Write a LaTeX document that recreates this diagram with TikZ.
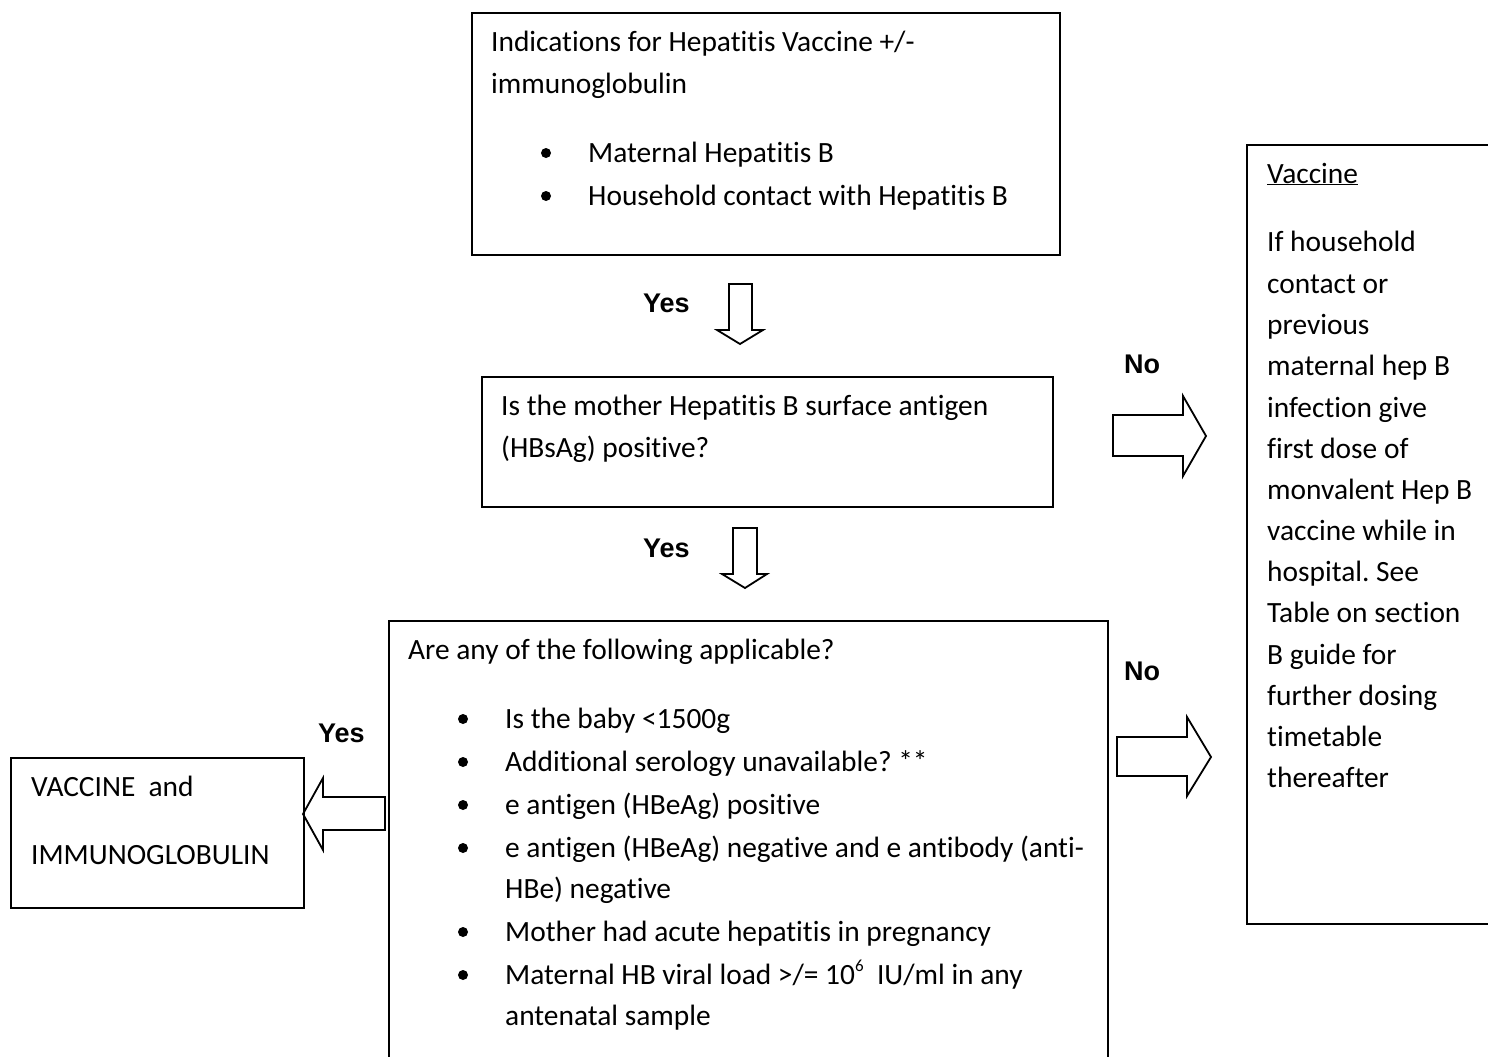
\documentclass[tikz,border=0pt]{standalone}
\usepackage{fontspec}
\setmainfont{Carlito}[Ligatures=NoCommon]
\newfontfamily\labelfont{Liberation Sans}
\frenchspacing
\newcommand{\smallsup}[1]{\raisebox{0.42em}{\fontsize{17}{17}\selectfont #1}}

\begin{document}
\begin{tikzpicture}[x=1pt,y=-1pt,
		box/.style={draw, line width=2pt, anchor=north west, inner sep=0pt},
		txt/.style={anchor=base west, inner sep=0pt, font=\fontsize{29.4}{41}\selectfont},
		dot/.style={circle, fill, inner sep=0pt, minimum size=10pt},
		lbl/.style={anchor=base west, inner sep=0pt, font=\labelfont\bfseries\fontsize{27}{32}\selectfont},
		blk/.style={draw, line width=1.8pt, line join=miter}]
		\useasboundingbox (0,0) rectangle (1488,1057);
		\clip (0,0) rectangle (1488,1057);
		% boxes
		\node[box, minimum width=588pt, minimum height=242pt] (ind) at (471,12) {};
		\node[box, minimum width=571pt, minimum height=130pt] (hbsag) at (481,376) {};
		\node[box, minimum width=719pt, minimum height=500pt] (apply) at (388,620) {};
		\node[box, minimum width=293pt, minimum height=150pt] (vig) at (10,757) {};
		\node[box, minimum width=300pt, minimum height=779pt] (vacc) at (1246,144) {};
		% block arrows
		\draw[blk] (729,284) -- (752,284) -- (752,330) -- (763,330) -- (740,344) -- (717,330) -- (729,330) -- cycle;
		\draw[blk] (733,528) -- (757,528) -- (757,574) -- (767,574) -- (745,588) -- (722,574) -- (733,574) -- cycle;
		\draw[blk] (1113,415) -- (1183,415) -- (1183,396) -- (1206,436) -- (1183,476) -- (1183,456) -- (1113,456) -- cycle;
		\draw[blk] (1117,737) -- (1187,737) -- (1187,717) -- (1211,757) -- (1187,796) -- (1187,776) -- (1117,776) -- cycle;
		\draw[blk] (385,797) -- (323,797) -- (323,778) -- (303,814) -- (323,850) -- (323,830) -- (385,830) -- cycle;
		\node[lbl] (yes1) at (643,312) {Yes};
		\node[lbl] (yes2) at (643,557) {Yes};
		\node[lbl] (yes3) at (318,742) {Yes};
		\node[lbl] (no1) at (1124,373) {No};
		\node[lbl] (no2) at (1124,680) {No};
		% indications
		\node[txt] (indA) at (491,52) {Indications for Hepatitis Vaccine +/-};
		\node[txt] (indB) at (491,93) {immunoglobulin};
		\node[dot] (indD1) at (546,153) {};
		\node[dot] (indD2) at (546,196) {};
		\node[txt] (indC) at (588,162) {Maternal Hepatitis B};
		\node[txt] (indE) at (588,205) {Household contact with Hepatitis B};
		% HBsAg question
		\node[txt] (hbsA) at (501,415) {Is the mother Hepatitis B surface antigen};
		\node[txt] (hbsB) at (501,457) {(HBsAg) positive?};
		% list of criteria
		\node[txt] (appA) at (408,659) {Are any of the following applicable?};
		\node[dot] (appD1) at (463,719) {};
		\node[dot] (appD2) at (463,762) {};
		\node[dot] (appD3) at (463,805) {};
		\node[dot] (appD4) at (463,848) {};
		\node[dot] (appD5) at (463,932) {};
		\node[dot] (appD6) at (463,975) {};
		\node[txt] (appB) at (505,728) {Is the baby <1500g};
		\node[txt] (appC) at (505,771) {Additional serology unavailable? **};
		\node[txt] (appE) at (505,814) {e antigen (HBeAg) positive};
		\node[txt] (appF) at (505,857) {e antigen (HBeAg) negative and e antibody (anti-};
		\node[txt] (appG) at (505,898) {HBe) negative};
		\node[txt] (appH) at (505,941) {Mother had acute hepatitis in pregnancy};
		\node[txt] (appI) at (505,984) {Maternal HB viral load >/= 10\smallsup{6}~ IU/ml in any};
		\node[txt] (appJ) at (505,1025) {antenatal sample};
		% vaccine and immunoglobulin
		\node[txt] (vigA) at (31,796) {VACCINE~ and};
		\node[txt] (vigB) at (31,864) {IMMUNOGLOBULIN};
		% vaccine only
		\node[txt] (vacA) at (1267,183) {\underline{Vaccine}};
		\node[txt] (vacB) at (1267,251) {If household};
		\node[txt] (vacC) at (1267,293) {contact or};
		\node[txt] (vacD) at (1267,334) {previous};
		\node[txt] (vacE) at (1267,375) {maternal hep B};
		\node[txt] (vacF) at (1267,417) {infection give};
		\node[txt] (vacG) at (1267,458) {first dose of};
		\node[txt] (vacH) at (1267,499) {monvalent Hep B};
		\node[txt] (vacI) at (1267,540) {vaccine while in};
		\node[txt] (vacJ) at (1267,581) {hospital. See};
		\node[txt] (vacK) at (1267,622) {Table on section};
		\node[txt] (vacL) at (1267,664) {B guide for};
		\node[txt] (vacM) at (1267,705) {further dosing};
		\node[txt] (vacN) at (1267,746) {timetable};
		\node[txt] (vacO) at (1267,787) {thereafter};
\end{tikzpicture}
\end{document}
